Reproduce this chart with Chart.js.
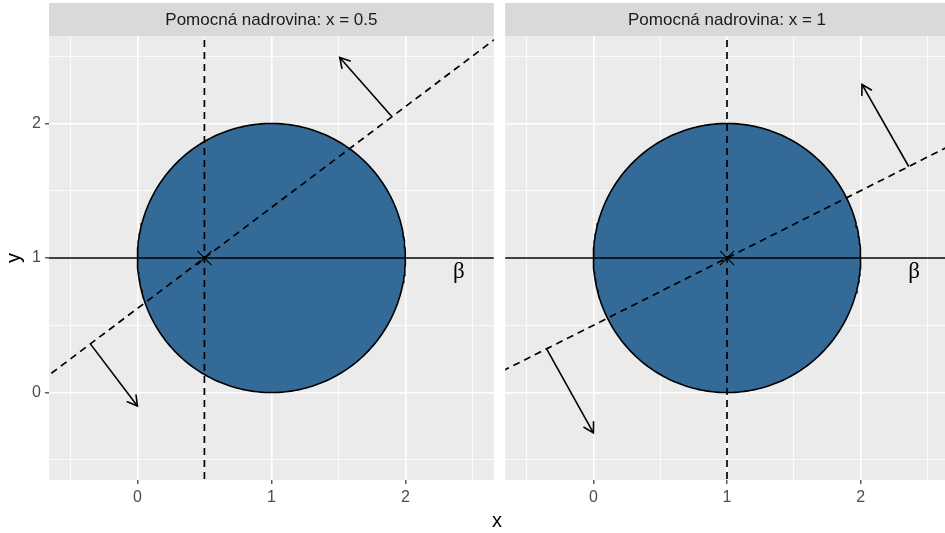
<!DOCTYPE html>
<html>
<head>
<meta charset="utf-8">
<script src="https://cdn.jsdelivr.net/npm/chart.js@4/dist/chart.umd.min.js"></script>
<style>
  html, body { margin: 0; padding: 0; background: #ffffff; overflow: hidden; width: 945px; height: 533px; }
  canvas { position: absolute; top: 0; }
  #xlab { position: absolute; left: 487px; top: 508px; width: 20px; text-align: center;
          font: 20px 'Liberation Sans', Arial, sans-serif; color: #000; line-height: 24px; }
</style>
</head>
<body>
<canvas id="panelA" width="494" height="533" style="left:0px"></canvas>
<canvas id="panelB" width="460" height="533" style="left:494px"></canvas>
<div id="xlab">x</div>
<script>
// ---- data ----
const panelTitles = ['Pomocná nadrovina: x = 0.5', 'Pomocná nadrovina: x = 1'];
const cutX = [0.5, 1];                       // vertical dashed hyperplane
const crossPoints = [{ x: 0.5, y: 1 }, { x: 1, y: 1 }];
const slopeLines = [                         // dashed supporting line, end points
  [{ x: -1, y: -0.125 }, { x: 3, y: 2.875 }],
  [{ x: -1, y: 0 }, { x: 3, y: 2 }]
];
const arrowsUp = [
  [{ x: 1.9, y: 2.05 }, { x: 1.51, y: 2.49 }],
  [{ x: 2.36, y: 1.68 }, { x: 2.01, y: 2.29 }]
];
const arrowsDown = [
  [{ x: -0.35, y: 0.36 }, { x: 0, y: -0.1 }],
  [{ x: -0.35, y: 0.325 }, { x: 0, y: -0.3 }]
];
const circleCenter = { x: 1, y: 1 };
const circleRadius = 1;
const baselineY = 1;
const betaLabel = { x: 2.4, y: 0.9, text: 'β' };
const majorBreaks = [0, 1, 2];
const minorBreaks = [-0.5, 0.5, 1.5, 2.5];
const xRange = [-0.66, 2.66];
const yRange = [-0.65, 2.65];

const FONT = "'Liberation Sans', Arial, sans-serif";
Chart.defaults.font.family = FONT;

// circle outline from its centre and radius
const circlePts = [];
for (let k = 0; k <= 240; k++) {
  const t = (k / 240) * 2 * Math.PI;
  circlePts.push({ x: circleCenter.x + circleRadius * Math.cos(t), y: circleCenter.y + circleRadius * Math.sin(t) });
}

const allBreaks = [...majorBreaks, ...minorBreaks].sort((a, b) => a - b);
const isMajor = v => majorBreaks.includes(v);

// panel background + strip header
const panelDecor = {
  id: 'panelDecor',
  beforeDraw(chart, args, opts) {
    const { ctx, chartArea: a } = chart;
    ctx.save();
    ctx.fillStyle = '#ebebeb';
    ctx.fillRect(a.left, a.top, a.right - a.left, a.bottom - a.top);
    ctx.fillStyle = '#d9d9d9';
    ctx.fillRect(a.left, 3, a.right - a.left, a.top - 3);
    ctx.fillStyle = '#1a1a1a';
    ctx.font = '17px ' + FONT;
    ctx.textAlign = 'center';
    ctx.textBaseline = 'middle';
    ctx.fillText(opts.title, (a.left + a.right) / 2, (3 + a.top) / 2 + 1);
    ctx.restore();
  }
};

// open arrow heads and the beta annotation
const overlay = {
  id: 'overlay',
  afterDatasetsDraw(chart) {
    const { ctx, scales } = chart;
    ctx.save();
    chart.data.datasets.forEach((ds, i) => {
      if (!ds.arrow) return;
      const pts = chart.getDatasetMeta(i).data;
      const p0 = pts[pts.length - 2], p1 = pts[pts.length - 1];
      const ang = Math.atan2(p1.y - p0.y, p1.x - p0.x);
      const len = 11, spread = Math.PI / 6;
      ctx.strokeStyle = '#000';
      ctx.lineWidth = 1.6;
      ctx.lineCap = 'round';
      ctx.beginPath();
      ctx.moveTo(p1.x - len * Math.cos(ang - spread), p1.y - len * Math.sin(ang - spread));
      ctx.lineTo(p1.x, p1.y);
      ctx.lineTo(p1.x - len * Math.cos(ang + spread), p1.y - len * Math.sin(ang + spread));
      ctx.stroke();
    });
    ctx.fillStyle = '#000';
    ctx.font = "23px 'Liberation Serif', 'DejaVu Serif', serif";
    ctx.textAlign = 'center';
    ctx.textBaseline = 'middle';
    ctx.fillText(betaLabel.text, scales.x.getPixelForValue(betaLabel.x), scales.y.getPixelForValue(betaLabel.y));
    ctx.restore();
  }
};

function gridStyle(showTicks) {
  return {
    color: '#ffffff',
    lineWidth: c => (c.tick && isMajor(c.tick.value)) ? 1.6 : 0.8,
    drawTicks: showTicks,
    tickLength: 4,
    tickWidth: 1.2,
    tickColor: c => (c.tick && isMajor(c.tick.value)) ? '#333333' : 'rgba(0,0,0,0)'
  };
}

function makePanel(idx, canvasId, withY) {
  const line = (data, extra) => Object.assign({
    data, showLine: true, pointRadius: 0, borderColor: '#000000', borderWidth: 1.6, fill: false
  }, extra || {});

  const datasets = [
    line(arrowsUp[idx], { arrow: true }),
    line(arrowsDown[idx], { arrow: true }),
    { data: [crossPoints[idx]], pointStyle: 'crossRot', pointRadius: 10, borderColor: '#000', borderWidth: 1.2, showLine: false },
    line(slopeLines[idx], { borderDash: [7, 5], borderWidth: 1.7 }),
    line([{ x: cutX[idx], y: -1 }, { x: cutX[idx], y: 3 }], { borderDash: [7, 5], borderWidth: 1.7 }),
    line([{ x: -1, y: baselineY }, { x: 3, y: baselineY }]),
    line(circlePts, { fill: 'shape', backgroundColor: '#336a98', borderWidth: 1.6 })
  ];

  return new Chart(document.getElementById(canvasId), {
    type: 'scatter',
    data: { datasets },
    options: {
      responsive: false,
      animation: false,
      events: [],
      layout: { padding: withY ? { top: 36, left: 0, right: 0, bottom: 0 } : { top: 36, left: 10, right: 0, bottom: 0 } },
      plugins: {
        legend: { display: false },
        tooltip: { enabled: false },
        panelDecor: { title: panelTitles[idx] }
      },
      scales: {
        x: {
          type: 'linear', min: xRange[0], max: xRange[1],
          afterBuildTicks: s => { s.ticks = allBreaks.map(v => ({ value: v })); },
          afterFit: s => { s.height = 53; s.paddingLeft = 0; s.paddingRight = 0; },
          grid: gridStyle(true),
          border: { display: false },
          ticks: {
            autoSkip: false, maxRotation: 0, padding: 4, color: '#4d4d4d',
            font: { size: 16 },
            callback: v => isMajor(v) ? String(v) : ''
          }
        },
        y: {
          type: 'linear', min: yRange[0], max: yRange[1],
          afterBuildTicks: s => { s.ticks = allBreaks.map(v => ({ value: v })); },
          afterFit: s => { s.width = withY ? 49 : 0; s.paddingTop = 0; s.paddingBottom = 0; },
          grid: gridStyle(withY),
          border: { display: false },
          title: withY ? { display: true, text: 'y', color: '#000', font: { size: 20 }, padding: { top: 2, bottom: 0 } } : { display: false },
          ticks: {
            display: withY, autoSkip: false, padding: 4, color: '#4d4d4d',
            font: { size: 16 },
            callback: v => isMajor(v) ? String(v) : ''
          }
        }
      }
    },
    plugins: [panelDecor, overlay]
  });
}

// build a panel, then widen its canvas so the plot area ends at the wanted pixel
function placePanel(idx, canvasId, withY, areaRight) {
  const cv = document.getElementById(canvasId);
  let ch = makePanel(idx, canvasId, withY);
  const diff = Math.round(areaRight - ch.chartArea.right);
  if (diff !== 0) {
    const w = cv.width;
    ch.destroy();
    cv.width = w + diff;
    ch = makePanel(idx, canvasId, withY);
  }
  return ch;
}

placePanel(0, 'panelA', true, 494);
placePanel(1, 'panelB', false, 455);
</script>
</body>
</html>
